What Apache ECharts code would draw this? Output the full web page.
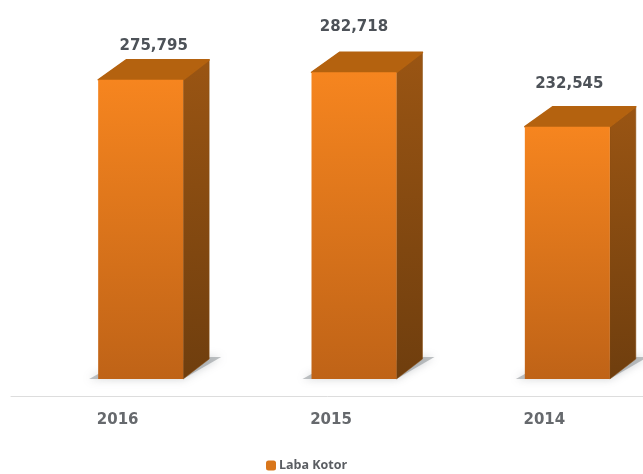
<!DOCTYPE html>
<html>
<head>
<meta charset="utf-8">
<style>html,body{margin:0;padding:0;background:#fff}#chart{width:643px;height:474px}</style>
<script src="https://cdn.jsdelivr.net/npm/echarts@6/dist/echarts.min.js"></script>
</head>
<body>
<div id="chart"></div>
<script>
const years = ['2016', '2015', '2014'];
const grossProfit = [275795, 282718, 232545];
const seriesName = 'Laba Kotor';

// Horizontal and vertical shifts of each value label, relative to the top of its box
const labelNudge = [[0, -14], [-13, -25], [-11, -23]];

const FONT = '"DejaVu Sans", sans-serif';
const FRONT_W = 85, DEPTH_X = 26, DEPTH_Y = 20, BOX_SHIFT = 23;

function vGrad(top, bottom) {
  return new echarts.graphic.LinearGradient(0, 0, 0, 1, [
    { offset: 0, color: top }, { offset: 1, color: bottom }
  ]);
}

// One extruded box: floor shadow, side face, top face, front face, value text
function renderBox(params, api) {
  const i = api.value(0);
  const topPt = api.coord([i, api.value(1)]);
  const basePt = api.coord([i, 0]);
  const l = topPt[0] + BOX_SHIFT - FRONT_W / 2;
  const r = l + FRONT_W;
  const t = topPt[1];
  const b = basePt[1];
  const nudge = labelNudge[i];
  const poly = (points, fill, extra) => ({
    type: 'polygon',
    shape: { points },
    style: Object.assign({ fill }, extra || {})
  });
  return {
    type: 'group',
    children: [
      poly([[l - 9, b], [r, b], [r + 38, b - 22], [r + 20, b - 22], [l, b - 5]],
        'rgba(130,135,140,0.5)', { shadowBlur: 9, shadowColor: 'rgba(130,135,140,0.75)' }),
      poly([[r, t], [r + DEPTH_X, t - DEPTH_Y], [r + DEPTH_X, b - DEPTH_Y], [r, b]],
        vGrad('#9A5513', '#6F3E0E'), { stroke: '#8A4F12', lineWidth: 0.5, lineJoin: 'round' }),
      poly([[l, t], [l + DEPTH_X + 2, t - DEPTH_Y], [r + DEPTH_X, t - DEPTH_Y], [r, t]],
        '#B4620F', { stroke: '#B4620F', lineWidth: 1.5, lineJoin: 'round' }),
      {
        type: 'rect',
        shape: { x: l, y: t, width: FRONT_W, height: b - t },
        style: { fill: vGrad('#F6851F', '#BF6317') }
      },
      {
        type: 'text',
        x: (l + r + DEPTH_X) / 2 + nudge[0],
        y: t - DEPTH_Y + nudge[1],
        style: {
          text: echarts.format.addCommas(api.value(1)),
          fill: '#4D5258',
          font: 'bold 15px ' + FONT,
          align: 'center',
          verticalAlign: 'middle'
        }
      }
    ]
  };
}

const chart = echarts.init(document.getElementById('chart'), null, { renderer: 'canvas' });
chart.setOption({
  animation: false,
  backgroundColor: '#ffffff',
  grid: { left: 11, top: 21, width: 640, height: 358, outerBoundsMode: 'none' },
  legend: {
    show: true,
    data: [seriesName],
    top: 454,
    left: 261,
    icon: 'roundRect',
    itemWidth: 10,
    itemHeight: 10,
    itemGap: 3,
    textStyle: { color: '#5A5D62', fontFamily: '"Open Sans", sans-serif', fontWeight: 'bold', fontSize: 12.5, padding: [0, 0, 0, -2] }
  },
  xAxis: {
    type: 'category',
    data: years,
    offset: 17,
    axisLine: { onZero: false, lineStyle: { color: '#DDDDDD', width: 1 } },
    axisTick: { show: false },
    axisLabel: { margin: 17, color: '#66696D', fontFamily: FONT, fontWeight: 'bold', fontSize: 15 }
  },
  yAxis: { type: 'value', min: 0, max: 330000, show: false, splitLine: { show: false } },
  series: [{
    name: seriesName,
    type: 'custom',
    clip: false,
    renderItem: renderBox,
    itemStyle: { color: '#D9761B' },
    encode: { x: 0, y: 1 },
    data: grossProfit.map((v, i) => [i, v])
  }]
});
</script>
</body>
</html>
